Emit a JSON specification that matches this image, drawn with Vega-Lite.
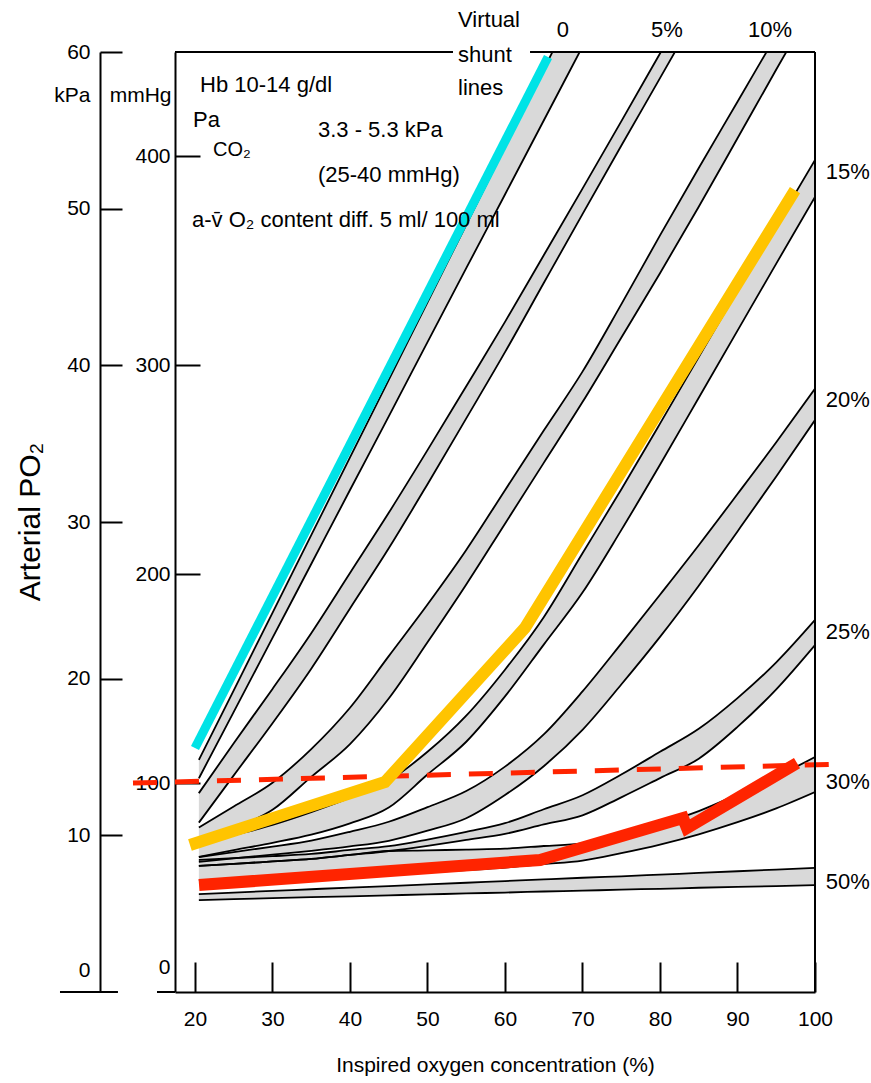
{
  "$schema": "https://vega.github.io/schema/vega-lite/v6.json",
  "width": 640,
  "height": 940,
  "autosize": {"type": "none"},
  "padding": {"left": 175, "top": 52, "right": 56, "bottom": 91},
  "background": "white",
  "config": {
    "view": {"stroke": null},
    "axis": {
      "grid": false, "domainColor": "black", "tickColor": "black", "labelColor": "black", "titleColor": "black",
      "labelFont": "Liberation Sans, Arial, sans-serif",
      "titleFont": "Liberation Sans, Arial, sans-serif",
      "labelFontSize": 21, "titleFontSize": 21, "titleFontWeight": "normal",
      "domainWidth": 2, "tickWidth": 2, "labelFlush": false, "labelOverlap": false
    },
    "text": {"font": "Liberation Sans, Arial, sans-serif", "color": "black"}
  },
  "title": {"text": "Arterial PO₂", "orient": "left", "anchor": "middle", "font": "Liberation Sans, Arial, sans-serif", "fontSize": 30, "fontWeight": "normal", "color": "black", "offset": 8},
  "datasets": {
    "bands": [
      {"b":"0%","x":20.5,"hi":111.1,"lo":102.3},{"b":"0%","x":25,"hi":144.4,"lo":134.1},{"b":"0%","x":30,"hi":181.5,"lo":169.5},{"b":"0%","x":35,"hi":218.7,"lo":204.9},{"b":"0%","x":40,"hi":255.9,"lo":240.3},{"b":"0%","x":45,"hi":293.0,"lo":275.6},{"b":"0%","x":50,"hi":330.2,"lo":311.1},{"b":"0%","x":55,"hi":367.3,"lo":346.5},{"b":"0%","x":60,"hi":404.5,"lo":381.8},{"b":"0%","x":65,"hi":441.7,"lo":417.2},{"b":"0%","x":70,"hi":478.8,"lo":452.6},{"b":"0%","x":75,"hi":516.0,"lo":488.0},
      {"b":"5%","x":20.5,"hi":95.2,"lo":81.1},{"b":"5%","x":25,"hi":119.1,"lo":103.7},{"b":"5%","x":30,"hi":145.1,"lo":128.7},{"b":"5%","x":35,"hi":171.8,"lo":154.8},{"b":"5%","x":40,"hi":200.6,"lo":183.6},{"b":"5%","x":45,"hi":229.4,"lo":212.4},{"b":"5%","x":50,"hi":259.4,"lo":243.1},{"b":"5%","x":55,"hi":290.0,"lo":274.6},{"b":"5%","x":60,"hi":320.8,"lo":306.3},{"b":"5%","x":65,"hi":352.7,"lo":339.4},{"b":"5%","x":70,"hi":384.6,"lo":372.4},{"b":"5%","x":75,"hi":416.8,"lo":405.1},{"b":"5%","x":80,"hi":449.3,"lo":437.5},{"b":"5%","x":85,"hi":481.8,"lo":470.0},
      {"b":"10%","x":20.5,"hi":78.7,"lo":70.6},{"b":"10%","x":25,"hi":88.8,"lo":78.2},{"b":"10%","x":30,"hi":100.2,"lo":87.2},{"b":"10%","x":35,"hi":116.3,"lo":103.0},{"b":"10%","x":40,"hi":136.1,"lo":118.7},{"b":"10%","x":45,"hi":160.8,"lo":140.5},{"b":"10%","x":50,"hi":185.5,"lo":167.4},{"b":"10%","x":55,"hi":211.6,"lo":195.1},{"b":"10%","x":60,"hi":240.2,"lo":224.2},{"b":"10%","x":65,"hi":268.8,"lo":253.3},{"b":"10%","x":70,"hi":297.0,"lo":282.4},{"b":"10%","x":75,"hi":329.2,"lo":313.2},{"b":"10%","x":80,"hi":362.2,"lo":344.1},{"b":"10%","x":85,"hi":394.5,"lo":375.9},{"b":"10%","x":90,"hi":426.2,"lo":408.7},{"b":"10%","x":95,"hi":458.0,"lo":441.6},{"b":"10%","x":100,"hi":489.7,"lo":474.0},
      {"b":"15%","x":20.5,"hi":70.5,"lo":64.7},{"b":"15%","x":25,"hi":75.0,"lo":67.9},{"b":"15%","x":30,"hi":80.0,"lo":71.4},{"b":"15%","x":35,"hi":86.1,"lo":75.3},{"b":"15%","x":40,"hi":93.0,"lo":80.7},{"b":"15%","x":45,"hi":101.2,"lo":88.3},{"b":"15%","x":50,"hi":115.0,"lo":104.1},{"b":"15%","x":55,"hi":132.3,"lo":119.8},{"b":"15%","x":60,"hi":154.3,"lo":141.5},{"b":"15%","x":65,"hi":179.4,"lo":166.3},{"b":"15%","x":70,"hi":210.0,"lo":191.2},{"b":"15%","x":75,"hi":240.6,"lo":221.1},{"b":"15%","x":80,"hi":272.1,"lo":252.4},{"b":"15%","x":85,"hi":304.0,"lo":284.5},{"b":"15%","x":90,"hi":335.8,"lo":316.6},{"b":"15%","x":95,"hi":366.9,"lo":348.7},{"b":"15%","x":100,"hi":398.3,"lo":380.6},
      {"b":"20%","x":20.5,"hi":64.6,"lo":62.3},{"b":"20%","x":25,"hi":67.0,"lo":64.0},{"b":"20%","x":30,"hi":69.6,"lo":65.8},{"b":"20%","x":35,"hi":72.5,"lo":67.6},{"b":"20%","x":40,"hi":76.7,"lo":69.7},{"b":"20%","x":45,"hi":81.5,"lo":72.4},{"b":"20%","x":50,"hi":88.5,"lo":77.2},{"b":"20%","x":55,"hi":96.2,"lo":83.2},{"b":"20%","x":60,"hi":107.9,"lo":94.3},{"b":"20%","x":65,"hi":123.3,"lo":108.1},{"b":"20%","x":70,"hi":143.9,"lo":125.5},{"b":"20%","x":75,"hi":166.8,"lo":147.2},{"b":"20%","x":80,"hi":190.2,"lo":170.0},{"b":"20%","x":85,"hi":213.9,"lo":194.5},{"b":"20%","x":90,"hi":238.4,"lo":220.5},{"b":"20%","x":95,"hi":263.2,"lo":246.8},{"b":"20%","x":100,"hi":288.8,"lo":273.8},
      {"b":"25%","x":20.5,"hi":63.2,"lo":60.4},{"b":"25%","x":25,"hi":64.1,"lo":61.3},{"b":"25%","x":30,"hi":65.0,"lo":62.5},{"b":"25%","x":35,"hi":66.1,"lo":63.7},{"b":"25%","x":40,"hi":68.0,"lo":65.6},{"b":"25%","x":45,"hi":69.8,"lo":67.5},{"b":"25%","x":50,"hi":73.0,"lo":70.0},{"b":"25%","x":55,"hi":76.7,"lo":72.8},{"b":"25%","x":60,"hi":80.8,"lo":75.7},{"b":"25%","x":65,"hi":87.5,"lo":80.2},{"b":"25%","x":70,"hi":94.2,"lo":84.6},{"b":"25%","x":75,"hi":104.1,"lo":93.2},{"b":"25%","x":80,"hi":115.0,"lo":102.4},{"b":"25%","x":85,"hi":126.0,"lo":111.7},{"b":"25%","x":90,"hi":140.7,"lo":126.9},{"b":"25%","x":95,"hi":157.8,"lo":144.9},{"b":"25%","x":100,"hi":178.1,"lo":166.1},
      {"b":"30%","x":20.5,"hi":60.4,"lo":53.6},{"b":"30%","x":25,"hi":61.3,"lo":54.0},{"b":"30%","x":30,"hi":62.5,"lo":54.3},{"b":"30%","x":35,"hi":63.7,"lo":54.8},{"b":"30%","x":40,"hi":65.6,"lo":55.5},{"b":"30%","x":45,"hi":67.5,"lo":56.3},{"b":"30%","x":50,"hi":67.8,"lo":57.3},{"b":"30%","x":55,"hi":68.2,"lo":58.4},{"b":"30%","x":60,"hi":68.6,"lo":59.6},{"b":"30%","x":65,"hi":69.9,"lo":61.2},{"b":"30%","x":70,"hi":71.2,"lo":62.9},{"b":"30%","x":75,"hi":75.4,"lo":66.5},{"b":"30%","x":80,"hi":80.4,"lo":70.6},{"b":"30%","x":85,"hi":86.6,"lo":75.5},{"b":"30%","x":90,"hi":94.5,"lo":81.3},{"b":"30%","x":95,"hi":103.0,"lo":87.9},{"b":"30%","x":100,"hi":112.5,"lo":95.7},
      {"b":"50%","x":20.5,"hi":46.9,"lo":44.0},{"b":"50%","x":25,"hi":47.6,"lo":44.5},{"b":"50%","x":30,"hi":48.4,"lo":44.9},{"b":"50%","x":35,"hi":49.2,"lo":45.4},{"b":"50%","x":40,"hi":50.0,"lo":45.8},{"b":"50%","x":45,"hi":50.7,"lo":46.3},{"b":"50%","x":50,"hi":51.5,"lo":46.7},{"b":"50%","x":55,"hi":52.3,"lo":47.2},{"b":"50%","x":60,"hi":53.1,"lo":47.6},{"b":"50%","x":65,"hi":53.9,"lo":48.1},{"b":"50%","x":70,"hi":54.7,"lo":48.5},{"b":"50%","x":75,"hi":55.4,"lo":49.0},{"b":"50%","x":80,"hi":56.2,"lo":49.4},{"b":"50%","x":85,"hi":57.0,"lo":49.9},{"b":"50%","x":90,"hi":57.8,"lo":50.3},{"b":"50%","x":95,"hi":58.6,"lo":50.7},{"b":"50%","x":100,"hi":59.4,"lo":51.2}
    ],
    "cyan": [{"x": 20.0, "y": 116.8}, {"x": 65.55, "y": 447.6}],
    "yellow": [{"x": 19.35, "y": 70.4}, {"x": 44.52, "y": 100.5}, {"x": 62.58, "y": 174.3}, {"x": 97.42, "y": 383.9}],
    "red": [{"x": 20.52, "y": 51.2}, {"x": 64.52, "y": 63.2}, {"x": 82.97, "y": 83.3}, {"x": 83.48, "y": 78.5}, {"x": 97.68, "y": 109.6}],
    "dashed": [{"x": 12.0, "y": 100.0}, {"x": 103.2, "y": 109.1}],
    "textLeft": [
      {"t": "Hb 10-14 g/dl", "x": 20.65, "y": 434.2},
      {"t": "Pa", "x": 19.74, "y": 417.4},
      {"t": "3.3 - 5.3 kPa", "x": 35.87, "y": 412.7},
      {"t": "(25-40 mmHg)", "x": 35.87, "y": 391.1},
      {"t": "a-v̄ O₂ content diff. 5 ml/ 100 ml", "x": 19.61, "y": 369.6},
      {"t": "Virtual", "x": 53.94, "y": 465.3},
      {"t": "shunt", "x": 53.94, "y": 448.6},
      {"t": "lines", "x": 53.94, "y": 432.8},
      {"t": "15%", "x": 101.4, "y": 392.5},
      {"t": "20%", "x": 101.4, "y": 283.4},
      {"t": "25%", "x": 101.4, "y": 172.3},
      {"t": "30%", "x": 101.4, "y": 100.5},
      {"t": "50%", "x": 101.4, "y": 52.7}
    ],
    "textTop": [
      {"t": "0", "x": 67.48, "y": 460.5},
      {"t": "5%", "x": 80.9, "y": 460.5},
      {"t": "10%", "x": 94.19, "y": 460.5}
    ],
    "textSmall": [{"t": "CO₂", "x": 22.32, "y": 403.1}],
    "frame": [
      {"x": 17.42, "x2": 53.29, "y": 60, "y2": 60},
      {"x": 63.23, "x2": 100, "y": 60, "y2": 60},
      {"x": 100, "x2": 100, "y": 0, "y2": 60},
      {"x": 15.1, "x2": 17.42, "y": 0, "y2": 0},
      {"x": 2.58, "x2": 10.06, "y": 0, "y2": 0}
    ]
  },
  "layer": [
    {
      "layer": [
        {
          "data": {"name": "bands"},
          "mark": {"type": "area", "interpolate": "monotone", "clip": true, "fill": "#d9d9d9"},
          "encoding": {
            "x": {"field": "x", "type": "quantitative", "scale": {"domain": [17.42, 100], "nice": false, "zero": false},
              "axis": {"values": [20, 30, 40, 50, 60, 70, 80, 90, 100], "tickSize": -30, "labelPadding": 46, "title": "Inspired oxygen concentration (%)", "titleY": 73, "titleBaseline": "middle"}},
            "y": {"field": "hi", "type": "quantitative", "scale": {"domain": [0, 450], "nice": false, "zero": false},
              "axis": {"orient": "left", "values": [0, 100, 200, 300, 400], "tickSize": -25, "labelPadding": 30,
                "labelOffset": {"condition": {"test": "datum.value === 0", "value": -25}, "value": 0},
                "tickOpacity": {"condition": {"test": "datum.value === 0", "value": 0}, "value": 1},
                "title": "mmHg", "titleAngle": 0, "titleAlign": "right", "titleBaseline": "middle", "titleX": -4, "titleY": 43}},
            "y2": {"field": "lo"},
            "detail": {"field": "b", "type": "nominal"}
          }
        },
        {
          "data": {"name": "bands"},
          "mark": {"type": "line", "interpolate": "monotone", "clip": true, "color": "black", "strokeWidth": 1.8},
          "encoding": {
            "x": {"field": "x", "type": "quantitative", "scale": {"domain": [17.42, 100], "nice": false, "zero": false}},
            "y": {"field": "hi", "type": "quantitative", "scale": {"domain": [0, 450], "nice": false, "zero": false}, "title": "mmHg"},
            "detail": {"field": "b", "type": "nominal"}
          }
        },
        {
          "data": {"name": "bands"},
          "mark": {"type": "line", "interpolate": "monotone", "clip": true, "color": "black", "strokeWidth": 1.8},
          "encoding": {
            "x": {"field": "x", "type": "quantitative", "scale": {"domain": [17.42, 100], "nice": false, "zero": false}},
            "y": {"field": "lo", "type": "quantitative", "scale": {"domain": [0, 450], "nice": false, "zero": false}, "title": "mmHg"},
            "detail": {"field": "b", "type": "nominal"}
          }
        },
        {
          "data": {"name": "dashed"},
          "mark": {"type": "line", "clip": false, "color": "#ff2400", "strokeWidth": 5, "strokeDash": [24, 18]},
          "encoding": {
            "x": {"field": "x", "type": "quantitative", "scale": {"domain": [17.42, 100], "nice": false, "zero": false}},
            "y": {"field": "y", "type": "quantitative", "scale": {"domain": [0, 450], "nice": false, "zero": false}, "title": "mmHg"}
          }
        },
        {
          "data": {"name": "cyan"},
          "mark": {"type": "line", "clip": false, "color": "#00e3e6", "strokeWidth": 9},
          "encoding": {
            "x": {"field": "x", "type": "quantitative", "scale": {"domain": [17.42, 100], "nice": false, "zero": false}},
            "y": {"field": "y", "type": "quantitative", "scale": {"domain": [0, 450], "nice": false, "zero": false}, "title": "mmHg"}
          }
        },
        {
          "data": {"name": "yellow"},
          "mark": {"type": "line", "clip": false, "color": "#ffc400", "strokeWidth": 12, "strokeJoin": "miter"},
          "encoding": {
            "x": {"field": "x", "type": "quantitative", "scale": {"domain": [17.42, 100], "nice": false, "zero": false}},
            "y": {"field": "y", "type": "quantitative", "scale": {"domain": [0, 450], "nice": false, "zero": false}, "title": "mmHg"}
          }
        },
        {
          "data": {"name": "red"},
          "mark": {"type": "line", "clip": false, "color": "#ff2400", "strokeWidth": 12, "strokeJoin": "miter"},
          "encoding": {
            "x": {"field": "x", "type": "quantitative", "scale": {"domain": [17.42, 100], "nice": false, "zero": false}},
            "y": {"field": "y", "type": "quantitative", "scale": {"domain": [0, 450], "nice": false, "zero": false}, "title": "mmHg"}
          }
        },
        {
          "data": {"name": "textLeft"},
          "mark": {"type": "text", "align": "left", "baseline": "middle", "fontSize": 22, "clip": false},
          "encoding": {
            "x": {"field": "x", "type": "quantitative", "scale": {"domain": [17.42, 100], "nice": false, "zero": false}},
            "y": {"field": "y", "type": "quantitative", "scale": {"domain": [0, 450], "nice": false, "zero": false}, "title": "mmHg"},
            "text": {"field": "t"}
          }
        },
        {
          "data": {"name": "textTop"},
          "mark": {"type": "text", "align": "center", "baseline": "middle", "fontSize": 22, "clip": false},
          "encoding": {
            "x": {"field": "x", "type": "quantitative", "scale": {"domain": [17.42, 100], "nice": false, "zero": false}},
            "y": {"field": "y", "type": "quantitative", "scale": {"domain": [0, 450], "nice": false, "zero": false}, "title": "mmHg"},
            "text": {"field": "t"}
          }
        },
        {
          "data": {"name": "textSmall"},
          "mark": {"type": "text", "align": "left", "baseline": "middle", "fontSize": 20, "clip": false},
          "encoding": {
            "x": {"field": "x", "type": "quantitative", "scale": {"domain": [17.42, 100], "nice": false, "zero": false}},
            "y": {"field": "y", "type": "quantitative", "scale": {"domain": [0, 450], "nice": false, "zero": false}, "title": "mmHg"},
            "text": {"field": "t"}
          }
        }
      ]
    },
    {
      "data": {"name": "frame"},
      "mark": {"type": "rule", "color": "black", "strokeWidth": 2, "clip": false},
      "encoding": {
        "x": {"field": "x", "type": "quantitative", "scale": {"domain": [17.42, 100], "nice": false, "zero": false}},
        "x2": {"field": "x2"},
        "y": {"field": "y", "type": "quantitative", "scale": {"domain": [0, 60], "nice": false, "zero": false},
          "axis": {"orient": "left", "offset": 75, "values": [0, 10, 20, 30, 40, 50, 60], "tickSize": -22, "labelPadding": 32,
            "labelOffset": {"condition": {"test": "datum.value === 0", "value": -22}, "value": 0},
            "tickOpacity": {"condition": {"test": "datum.value === 0", "value": 0}, "value": 1},
            "title": "kPa", "titleAngle": 0, "titleAlign": "right", "titleBaseline": "middle", "titleX": -10, "titleY": 43}},
        "y2": {"field": "y2"}
      }
    }
  ],
  "resolve": {"scale": {"y": "independent"}, "axis": {"y": "independent"}}
}
